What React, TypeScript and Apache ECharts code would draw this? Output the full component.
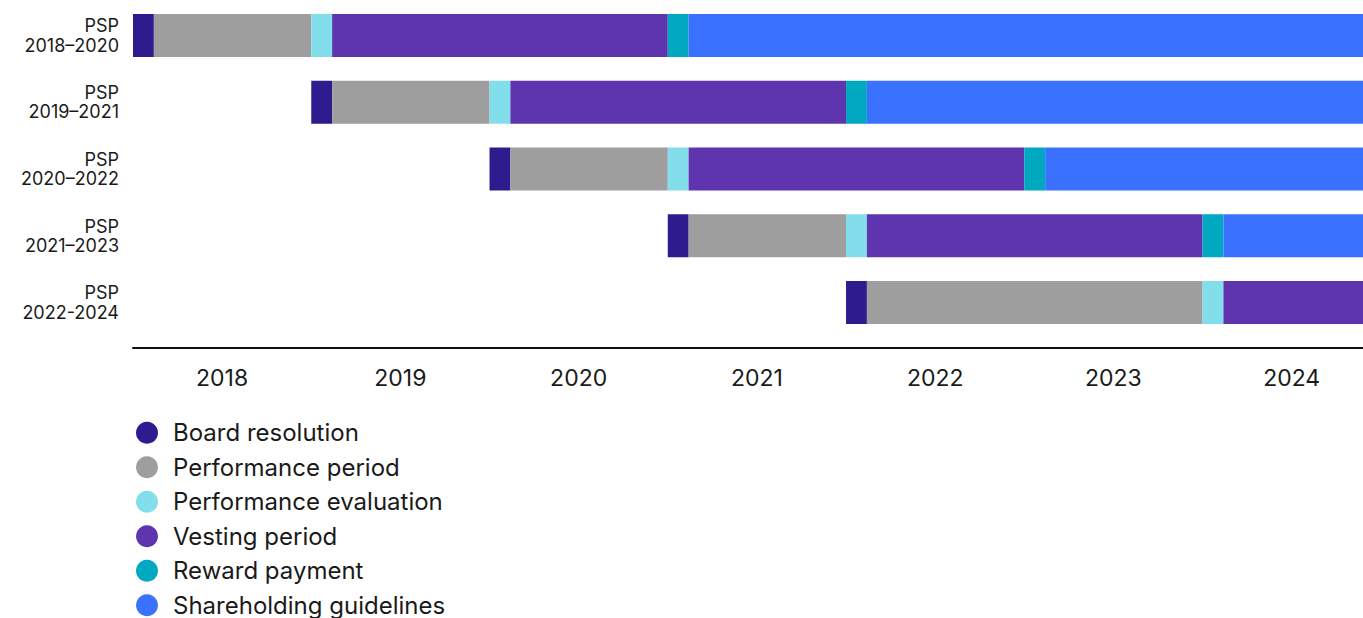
import React, { useEffect, useRef } from "react";
import * as echarts from "echarts";

const plans = ["PSP\n2018–2020", "PSP\n2019–2021", "PSP\n2020–2022", "PSP\n2021–2023", "PSP\n2022-2024"];
const startYear = [2018, 2019, 2020, 2021, 2022];
const boardResolution = [0.117, 0.117, 0.117, 0.117, 0.117];
const performancePeriod = [0.883, 0.883, 0.883, 0.883, 1.883];
const performanceEvaluation = [0.117, 0.117, 0.117, 0.117, 0.117];
const vestingPeriod = [1.883, 1.883, 1.883, 1.883, 0.883];
const rewardPayment = [0.117, 0.117, 0.117, 0.117, 0];
const shareholdingGuidelines = [3.883, 2.883, 1.883, 0.883, 0];

const segmentNames = [
  "Board resolution",
  "Performance period",
  "Performance evaluation",
  "Vesting period",
  "Reward payment",
  "Shareholding guidelines",
];
const segmentValues = [
  boardResolution,
  performancePeriod,
  performanceEvaluation,
  vestingPeriod,
  rewardPayment,
  shareholdingGuidelines,
];
const segmentColors = ["#2e1b8e", "#9e9e9e", "#82deeb", "#5e35ae", "#00a8c0", "#3a72ff"];

const FONT = "Inter, 'Noto Sans', sans-serif";

export default function App() {
  const ref = useRef<HTMLDivElement>(null);
  useEffect(() => {
    if (!ref.current) return;
    const chart = echarts.init(ref.current, undefined, { renderer: "svg" });
    const series: any[] = [
      {
        name: "offset",
        type: "bar",
        stack: "t",
        data: startYear,
        itemStyle: { color: "transparent" },
        silent: true,
        barWidth: 43,
      },
      ...segmentNames.map((name, i) => ({
        name,
        type: "bar",
        stack: "t",
        data: segmentValues[i],
        itemStyle: { color: segmentColors[i] },
        barWidth: 43,
        silent: true,
      })),
    ];
    chart.setOption({
      animation: false,
      textStyle: { fontFamily: FONT },
      grid: {
        left: 133,
        width: 1230,
        top: 2,
        height: 334,
        containLabel: false,
        outerBoundsMode: "none",
      },
      legend: {
        data: segmentNames,
        orient: "vertical",
        left: 136,
        top: 420.7,
        height: 260,
        padding: 0,
        icon: "circle",
        itemWidth: 42,
        itemHeight: 22,
        itemGap: 10.5,
        selectedMode: false,
        textStyle: { fontSize: 24, lineHeight: 24, color: "#1a1a1a", fontFamily: FONT },
      },
      xAxis: {
        type: "value",
        min: 2018,
        max: 2024.9,
        interval: 0.5,
        offset: 12,
        axisLine: { show: true, lineStyle: { color: "#111", width: 2 } },
        axisTick: { show: false },
        splitLine: { show: false },
        axisLabel: {
          fontSize: 23,
          lineHeight: 23,
          color: "#1a1a1a",
          margin: 18,
          fontFamily: FONT,
          formatter: (v: number) =>
            Math.abs(v - Math.floor(v) - 0.5) < 1e-6 ? String(Math.floor(v)) : "",
        },
      },
      yAxis: {
        type: "category",
        data: plans,
        inverse: true,
        axisLine: { show: false },
        axisTick: { show: false },
        axisLabel: {
          fontSize: 18,
          lineHeight: 19.5,
          color: "#1a1a1a",
          align: "right",
          margin: 14,
          fontFamily: FONT,
        },
      },
      series,
    });
    return () => chart.dispose();
  }, []);
  return (
    <div
      ref={ref}
      style={{ position: "fixed", left: 0, top: 0, width: 1363, height: 618, background: "#fff" }}
    />
  );
}
